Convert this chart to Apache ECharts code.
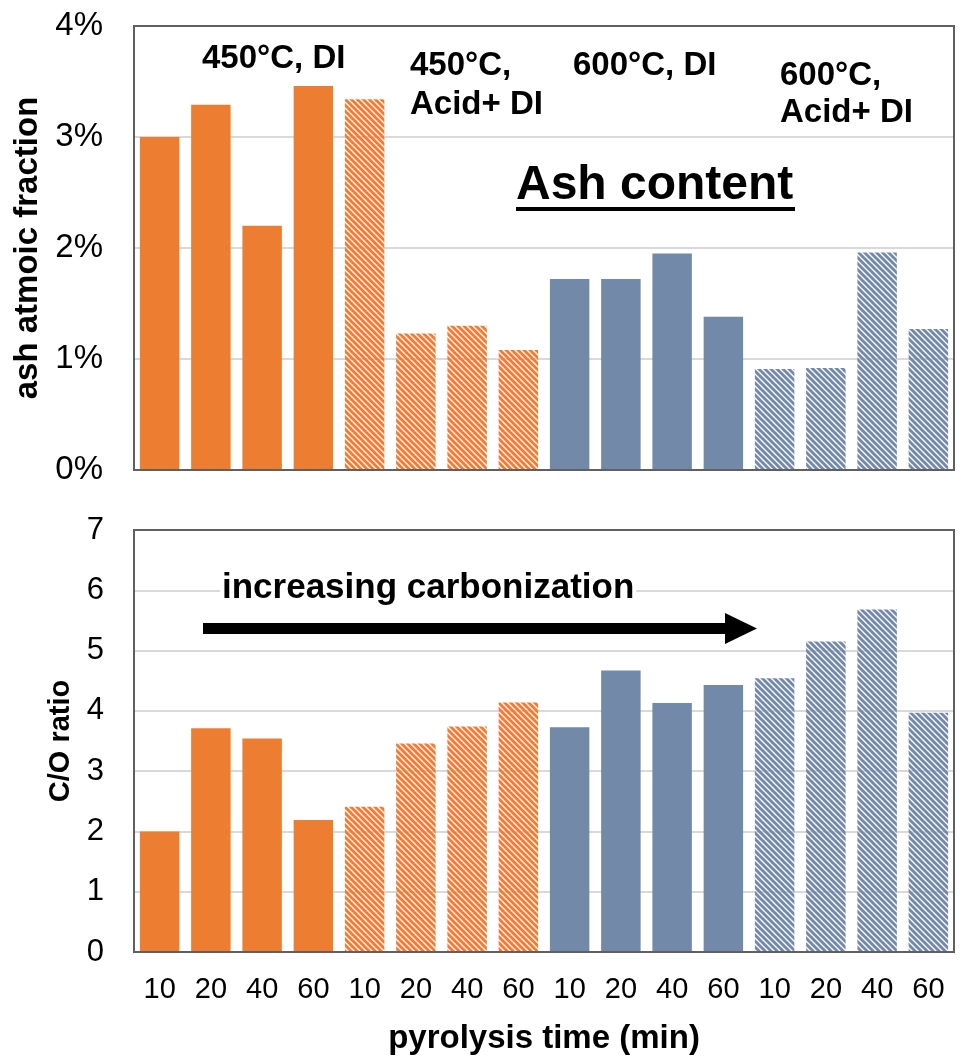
<!DOCTYPE html>
<html>
<head>
<meta charset="utf-8">
<script src="https://cdn.jsdelivr.net/npm/echarts@6/dist/echarts.min.js"></script>
<style>
  html, body { margin: 0; padding: 0; background: #fff; }
  #chart { width: 964px; height: 1057px; }
</style>
</head>
<body>
<div id="chart"></div>
<script>
// pyrolysis time per bar, four groups of four
const categories = ['10', '20', '40', '60', '10', '20', '40', '60', '10', '20', '40', '60', '10', '20', '40', '60']
const groups = ['450°C, DI', '450°C, Acid+ DI', '600°C, DI', '600°C, Acid+ DI']
// ash atomic fraction in %
const ashFraction = [3.00, 3.29, 2.20, 3.46, 3.34, 1.23, 1.30, 1.08, 1.72, 1.72, 1.95, 1.38, 0.91, 0.92, 1.96, 1.27]
// C/O ratio
const coRatio = [2.00, 3.71, 3.54, 2.19, 2.41, 3.46, 3.74, 4.14, 3.73, 4.67, 4.13, 4.43, 4.54, 5.15, 5.68, 3.97]
const ashTicks = [0, 1, 2, 3, 4]
const coTicks = [0, 1, 2, 3, 4, 5, 6, 7]

const FONT = '"Liberation Sans", Arial, sans-serif'
const ORANGE = '#ED7D31'
const BLUE = '#7289A9'

// diagonal hatch like Excel "wide downward diagonal"
function hatch(color) {
    const s = 6
    const c = document.createElement('canvas')
    c.width = s; c.height = s
    const ctx = c.getContext('2d')
    ctx.strokeStyle = color
    ctx.lineWidth = 3
    for (let k = -s; k <= s; k += s) {
        ctx.beginPath()
        ctx.moveTo(k - 1, -1)
        ctx.lineTo(k + s + 1, s + 1)
        ctx.stroke()
    }
    return { image: c, repeat: 'repeat' }
}
const groupFill = [ORANGE, hatch(ORANGE), BLUE, hatch(BLUE)]

function toData(values) {
    return values.map((v, i) => ({ value: v, itemStyle: { color: groupFill[Math.floor(i / 4)] } }))
}

const chart = echarts.init(document.getElementById('chart'))

const gridLine = { show: true, lineStyle: { color: '#D9D9D9', width: 2 } }
const box = { left: 134, width: 820 }
const top1 = 26, h1 = 444, top2 = 530, h2 = 422

const option = {
    animation: false,
    textStyle: { fontFamily: FONT },
    grid: [
        { left: box.left, top: top1, width: box.width, height: h1 },
        { left: box.left, top: top2, width: box.width, height: h2 }
    ],
    xAxis: [
        {
            type: 'category', gridIndex: 0, data: categories,
            axisLine: { show: false }, axisTick: { show: false }, axisLabel: { show: false }
        },
        {
            type: 'category', gridIndex: 1, data: categories,
            axisLine: { show: false }, axisTick: { show: false },
            axisLabel: { color: '#000', fontSize: 29, margin: 23, interval: 0, fontFamily: FONT },
            name: 'pyrolysis time (min)', nameLocation: 'middle', nameGap: 70,
            nameTextStyle: { color: '#000', fontSize: 33, fontWeight: 'bold', fontFamily: FONT }
        }
    ],
    yAxis: [
        {
            type: 'value', gridIndex: 0, min: ashTicks[0], max: ashTicks[ashTicks.length - 1], interval: 1,
            axisLine: { show: false }, axisTick: { show: false }, splitLine: gridLine,
            axisLabel: { color: '#000', fontSize: 33, margin: 31, formatter: '{value}%', fontFamily: FONT },
            name: 'ash atmoic fraction', nameLocation: 'middle', nameGap: 86, nameRotate: 90,
            nameTextStyle: { color: '#000', fontSize: 33, fontWeight: 'bold', fontFamily: FONT }
        },
        {
            type: 'value', gridIndex: 1, min: coTicks[0], max: coTicks[coTicks.length - 1], interval: 1,
            axisLine: { show: false }, axisTick: { show: false }, splitLine: gridLine,
            axisLabel: { color: '#000', fontSize: 31, margin: 30, fontFamily: FONT },
            name: 'C/O ratio', nameLocation: 'middle', nameGap: 56, nameRotate: 90,
            nameTextStyle: { color: '#000', fontSize: 29, fontWeight: 'bold', fontFamily: FONT }
        }
    ],
    series: [
        {
            name: 'ash', type: 'bar', xAxisIndex: 0, yAxisIndex: 0,
            barCategoryGap: '23%', data: toData(ashFraction)
        },
        {
            name: 'C/O', type: 'bar', xAxisIndex: 1, yAxisIndex: 1,
            barCategoryGap: '23%', data: toData(coRatio)
        }
    ],
    graphic: [
        // plot frames
        { type: 'rect', z: 10, shape: { x: box.left, y: top1, width: box.width, height: h1 }, style: { fill: null, stroke: '#606060', lineWidth: 2 } },
        { type: 'rect', z: 10, shape: { x: box.left, y: top2, width: box.width, height: h2 }, style: { fill: null, stroke: '#606060', lineWidth: 2 } },
        // annotations
        { type: 'text', z: 11, left: 202, top: 42, style: { text: groups[0], font: 'bold 33px ' + FONT, fill: '#000' } },
        { type: 'text', z: 11, left: 410, top: 46, style: { text: '450°C,\nAcid+ DI', font: 'bold 33px ' + FONT, lineHeight: 39, fill: '#000' } },
        { type: 'text', z: 11, left: 573, top: 49, style: { text: groups[2], font: 'bold 33px ' + FONT, fill: '#000' } },
        { type: 'text', z: 11, left: 780, top: 57, style: { text: '600°C,\nAcid+ DI', font: 'bold 33px ' + FONT, lineHeight: 37, fill: '#000' } },
        { type: 'text', z: 11, left: 516, top: 162, style: { text: 'Ash content', font: 'bold 48px ' + FONT, fill: '#000' } },
        { type: 'rect', z: 11, shape: { x: 516, y: 207, width: 279, height: 4 }, style: { fill: '#000' } },
        { type: 'text', z: 11, left: 220, top: 571, style: { text: 'increasing carbonization', font: 'bold 35px ' + FONT, fill: '#000', backgroundColor: '#fff', padding: [0, 2] } },
        { type: 'rect', z: 11, shape: { x: 203, y: 623, width: 526, height: 11 }, style: { fill: '#000' } },
        { type: 'polygon', z: 11, shape: { points: [[725, 613], [757, 628.5], [725, 644]] }, style: { fill: '#000' } }
    ]
}
chart.setOption(option)
</script>
</body>
</html>
